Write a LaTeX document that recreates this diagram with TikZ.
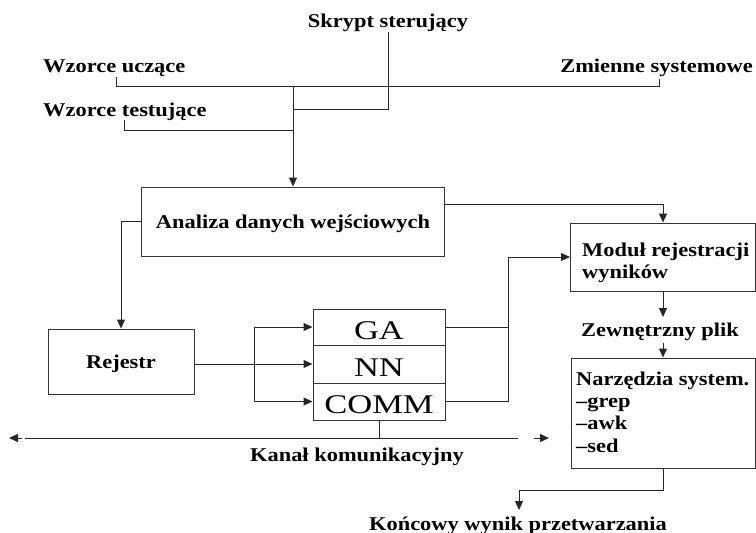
\documentclass[tikz,border=0pt]{standalone}
\usepackage{fontspec}
\setmainfont{Liberation Serif}
\newfontfamily\lblfont[FakeStretch=1.15]{Liberation Serif}
\newfontfamily\cellfont[FakeStretch=1.28]{Liberation Serif}
\usetikzlibrary{arrows.meta}

\begin{document}
\begin{tikzpicture}[x=1pt,y=-1pt,
  lbl/.style={font=\lblfont\bfseries\fontsize{19.5}{22.4}\selectfont, inner sep=0pt, anchor=base},
  box/.style={draw=black!80, line width=1pt, inner sep=0pt},
  boxtxt/.style={box, font=\lblfont\bfseries\fontsize{19.5}{22.4}\selectfont, text height=15pt, text depth=2pt},
  cell/.style={box, minimum width=132pt, font=\cellfont\fontsize{27}{27}\selectfont, text height=24pt, text depth=0pt},
  wire/.style={line width=1pt, draw=black!85},
  arr/.style={wire, -{Triangle[length=9pt,width=8pt]}}
]
\useasboundingbox (0,0) rectangle (756,533);

% inputs at the top
\node[lbl] (skr) at (388,27) {Skrypt sterujący};
\node[lbl, anchor=base west] (wzu) at (43,72) {Wzorce uczące};
\node[lbl, anchor=base west] (wzt) at (43,116) {Wzorce testujące};
\node[lbl, anchor=base east] (zmi) at (753,72.5) {Zmienne systemowe};

% processing blocks
\node[boxtxt, minimum width=303pt, minimum height=69pt] (ana) at (293,221.5) {Analiza danych wejściowych};
\node[boxtxt, minimum width=146pt, minimum height=65pt] (rej) at (121,361.5) {Rejestr};
\node[cell, minimum height=36pt] (ga) at (379,327) {GA};
\node[cell, minimum height=38pt] (nn) at (379,364) {NN};
\node[cell, minimum height=37pt] (comm) at (379,401.5) {COMM};

\node[box, minimum width=185pt, minimum height=68pt] (mod) at (663,257) {};
% multi-line labels are anchored at the baseline of their last line
\node[lbl, anchor=base west, align=left] (modt) at (582,278.4) {Moduł rejestracji\\wyników};
\node[lbl] (zew) at (660,336) {Zewnętrzny plik};
\node[box, minimum width=184pt, minimum height=110pt] (nar) at (663,413) {};
\node[lbl, anchor=base west, align=left] (nart) at (576,452.2) {Narzędzia system.\\–grep\\–awk\\–sed};

\node[lbl] (kan) at (357,461) {Kanał komunikacyjny};
\node[lbl] (kon) at (518,530) {Końcowy wynik przetwarzania};

% junction points
\coordinate (uA) at (116,77);
\coordinate (uL) at (116,86);
\coordinate (zL) at (659,86);
\coordinate (zA) at (659,79);
\coordinate (sA) at (388,32);
\coordinate (sJ) at (293,109);
\coordinate (tA) at (124,120);
\coordinate (tJ) at (293,130);
\coordinate (trunk) at (293,86);
\coordinate (fork) at (254,364);
\coordinate (bus) at (508,257);
\coordinate (chL) at (25,438);
\coordinate (chR) at (518,438);
\coordinate (tipLb) at (22,438);
\coordinate (tipL) at (9,438);
\coordinate (tipRb) at (534,438);
\coordinate (tipR) at (549,438);
\coordinate (zewIn) at (663,317);
\coordinate (zewOut) at (663,343);
\coordinate (konIn) at (519,510);

% input wiring
\draw[wire] (uA) -- (uL) -- (zL) -- (zA);
\draw[wire] (sA) |- (sJ);
\draw[wire] (tA) |- (tJ);
\draw[arr] (trunk) -- (ana.north);

% data flow
\draw[arr] (ana.west) -| (rej.north);
\draw[arr] ([yshift=-18pt]ana.north east) -| (mod.north);
\draw[wire] (rej.east |- fork) -- (fork);
\draw[arr] (fork) -- (nn.west);
\draw[arr] (fork) |- (ga.west);
\draw[arr] (fork) |- (comm.west);
\draw[wire] (ga.east) -| (bus);
\draw[wire] (comm.east) -| (bus);
\draw[arr] (bus) -- (mod.west);

% communication channel
\draw[wire] (chL) -- (chR);
\draw[wire] (comm.south) -- (comm.south |- chL);
\draw[arr] (tipLb) -- (tipL);
\draw[arr] (tipRb) -- (tipR);

% results
\draw[arr] (mod.south) -- (zewIn);
\draw[arr] (zewOut) -- (nar.north);
\draw[arr] (nar.south) -- ++(0,22) -| (konIn);
\end{tikzpicture}
\end{document}
